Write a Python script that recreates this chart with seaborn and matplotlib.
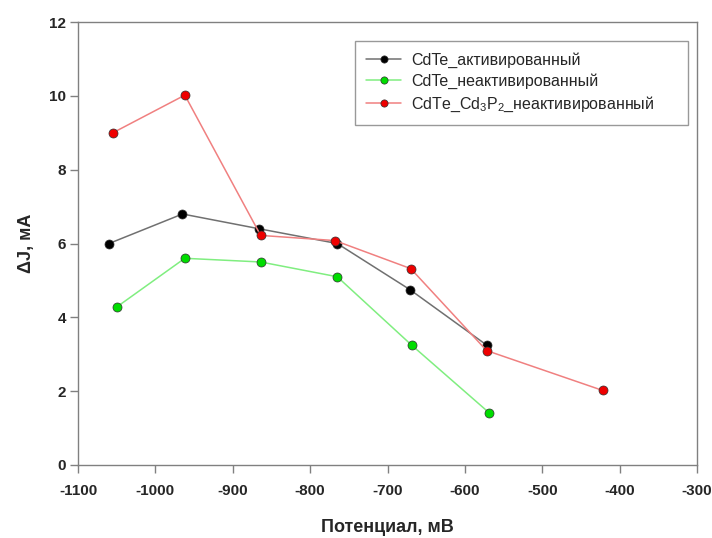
import matplotlib
matplotlib.use("Agg")
import matplotlib.pyplot as plt
import seaborn as sns

# Данные
x_act = [-1060, -965, -866, -765, -671, -572]
y_act = [6.0, 6.8, 6.4, 6.0, 4.75, 3.25]

x_neact = [-1050, -962, -864, -765, -669, -569]
y_neact = [4.28, 5.6, 5.5, 5.1, 3.25, 1.42]

x_cdp = [-1055, -962, -864, -768, -670, -572, -422]
y_cdp = [9.0, 10.02, 6.22, 6.08, 5.32, 3.1, 2.02]

labels = ["CdTe_активированный",
          "CdTe_неактивированный",
          "CdTe_Cd$_3$P$_2$_неактивированный"]

sns.set_style("ticks")
plt.rcParams['font.family'] = ['Liberation Sans', 'DejaVu Sans']
plt.rcParams['mathtext.fontset'] = 'custom'
plt.rcParams['mathtext.rm'] = 'Liberation Sans'
plt.rcParams['axes.unicode_minus'] = False

fig = plt.figure(figsize=(7.12, 5.38), dpi=100)
ax = fig.add_axes([0.1096, 0.1357, 0.8694, 0.8233])

series = [
    (x_act, y_act, "#000000", "#707070", labels[0]),
    (x_neact, y_neact, "#00dd00", "#80ee80", labels[1]),
    (x_cdp, y_cdp, "#ee0000", "#f08080", labels[2]),
]
for xs, ys, mc, lc, lab in series:
    sns.lineplot(x=xs, y=ys, ax=ax, sort=False, color=lc, linewidth=1.1,
                 marker='o', markersize=6.5, markerfacecolor=mc,
                 markeredgecolor="#303030", markeredgewidth=0.5, label=lab)

ax.set_xlim(-1100, -300)
ax.set_ylim(0, 12)
ax.set_xticks(range(-1100, -299, 100))
ax.set_yticks(range(0, 13, 2))

for side in ax.spines.values():
    side.set_color("#808080")
    side.set_linewidth(1.0)
ax.tick_params(direction='out', length=5.5, color="#808080", width=1.0,
               labelsize=11)
ax.tick_params(axis='x', pad=8)
ax.tick_params(axis='y', pad=3)
for t in ax.get_xticklabels() + ax.get_yticklabels():
    t.set_fontweight('bold')

ax.set_xlabel("Потенциал, мВ", fontsize=13, fontweight='bold', labelpad=15)
ax.set_ylabel("ΔJ, мА", fontsize=13, fontweight='bold', labelpad=10)

leg = ax.legend(loc='upper left', bbox_to_anchor=(0.4475, 0.757, 0.538, 0.2),
                mode='expand', borderaxespad=0, frameon=True, fancybox=False,
                fontsize=11.5, handlelength=2.2, handletextpad=0.6,
                markerscale=0.8, borderpad=0.7, labelspacing=0.35)
leg.get_frame().set_edgecolor("#808080")
leg.get_frame().set_linewidth(1.0)

fig.savefig("out.png", dpi=100)
